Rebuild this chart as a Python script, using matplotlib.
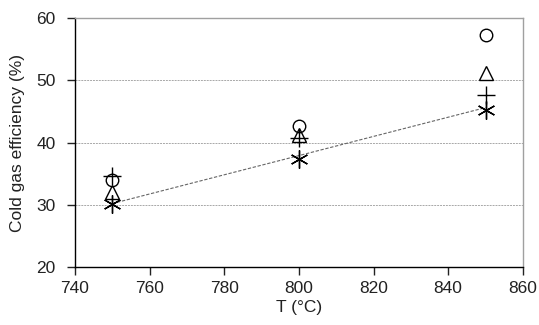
import matplotlib
matplotlib.use("Agg")
from matplotlib import pyplot as plt

plt.rcParams['font.family'] = ['Liberation Sans', 'DejaVu Sans']

# temperatures (C)
temps = [750, 800, 850]

# cold gas efficiency (%)
eff_circle = [34.0, 42.6, 57.3]
eff_triangle = [32.0, 41.2, 51.2]
eff_plus = [34.6, 40.7, 47.6]
eff_star = [30.2, 37.3, 45.2]

# model line
line_t = [750, 850]
line_eff = [30.2, 45.6]

fig = plt.figure(figsize=(5.39, 3.25), dpi=100)
ax = fig.add_axes([0.139, 0.178, 0.831, 0.767])

for yv in [30, 40, 50]:
    ax.axhline(yv, color='#a8a8a8', lw=0.7, ls=(0, (2, 1)), zorder=1)

ax.plot(line_t, line_eff, color='#666666', lw=0.8, ls=(0, (3, 1.5)), zorder=2)

ax.plot(temps, eff_circle, ls='none', marker='o', ms=9, mfc='none', mec='black', mew=1.0, zorder=3)
ax.plot(temps, eff_triangle, ls='none', marker='^', ms=10, mfc='none', mec='black', mew=1.0, zorder=3)
ax.plot(temps, eff_plus, ls='none', marker='+', ms=13, mec='black', mew=1.0, zorder=3)
ax.plot(temps, eff_star, ls='none', marker=(6, 2, 0), ms=13, mec='black', mew=1.0, zorder=3)

ax.set_xlim(740, 860)
ax.set_ylim(20, 60)
ax.set_xticks(range(740, 861, 20))
ax.set_yticks(range(20, 61, 10))

ax.spines['left'].set_color('black')
ax.spines['bottom'].set_color('black')
ax.spines['top'].set_color('#a0a0a0')
ax.spines['right'].set_color('#a0a0a0')
for s in ax.spines.values():
    s.set_linewidth(1.0)

ax.tick_params(direction='out', length=6, width=1.0, labelsize=12.5, colors='#222222')
ax.tick_params(axis='y', pad=8)
ax.tick_params(axis='x', pad=4)

ax.set_xlabel("T (°C)", fontsize=12.5, color='#222222', labelpad=3)
ax.set_ylabel("Cold gas efficiency (%)", fontsize=12.5, color='#222222', labelpad=8)

fig.savefig("out.png", dpi=100)
